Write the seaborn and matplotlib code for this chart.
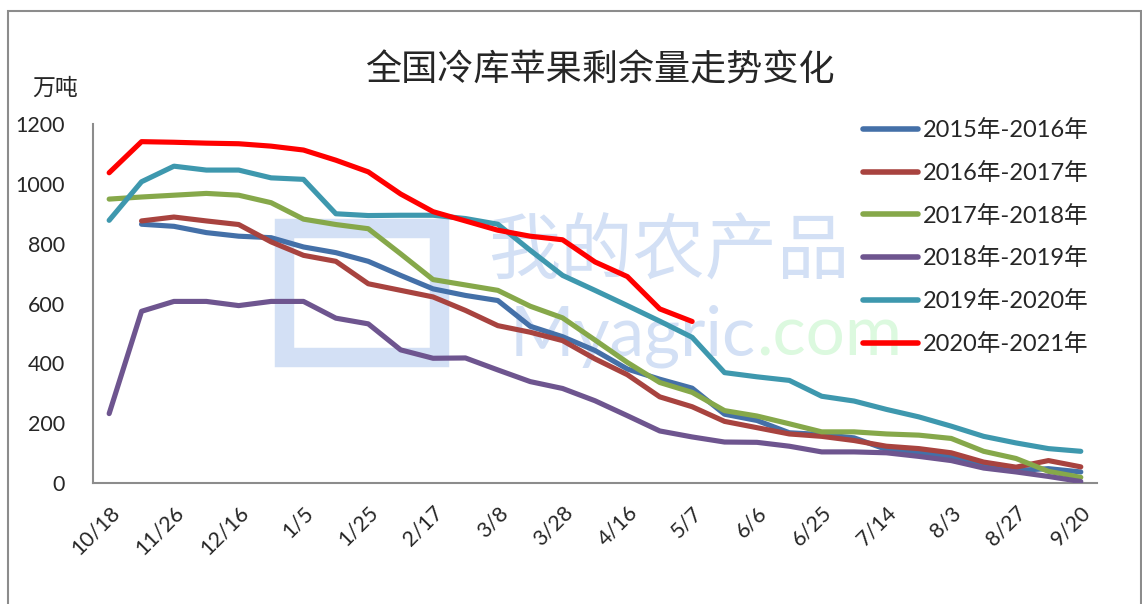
import numpy as np
import pandas as pd
import seaborn as sns
import matplotlib.pyplot as plt
from matplotlib.patches import Rectangle

# x categories (31 weekly points), only every other one is labelled
n_points = 31
x_labels = ['10/18', '11/26', '12/16', '1/5', '1/25', '2/17', '3/8', '3/28',
            '4/16', '5/7', '6/6', '6/25', '7/14', '8/3', '8/27', '9/20']

nan = np.nan
s2015 = [nan, 865, 858, 837, 825, 820, 789, 770, 741, 694, 649, 627, 610, 524, 489, 443,
         381, 347, 317, 230, 209, 168, 162, 151, 112, 101, 89, 56, 42, 48, 37]
s2016 = [nan, 876, 889, 876, 864, 806, 761, 741, 666, 644, 622, 577, 526, 504, 476, 415,
         362, 288, 255, 206, 185, 164, 156, 142, 123, 115, 101, 70, 53, 75, 54]
s2017 = [949, 956, 962, 968, 962, 937, 882, 864, 850, 766, 680, 662, 644, 591, 552, 478,
         403, 336, 303, 242, 224, 198, 171, 171, 164, 160, 149, 106, 82, 39, 19]
s2018 = [232, 574, 607, 607, 593, 607, 607, 551, 532, 445, 417, 418, 378, 339, 316, 275,
         225, 174, 154, 137, 136, 123, 104, 104, 101, 89, 75, 50, 37, 22, 5]
s2019 = [878, 1007, 1059, 1046, 1046, 1020, 1015, 900, 894, 895, 895, 884, 865, 778, 694, 644,
         593, 541, 487, 369, 355, 343, 290, 274, 246, 221, 190, 156, 134, 115, 106]
s2020 = [1037, 1141, 1139, 1136, 1134, 1126, 1113, 1079, 1040, 966, 907, 876, 845, 825, 813, 739,
         690, 582, 540] + [nan] * 12

series_names = ['2015年-2016年', '2016年-2017年', '2017年-2018年',
                '2018年-2019年', '2019年-2020年', '2020年-2021年']
colors = ['#4470A8', '#A8433F', '#86A84A', '#6E558F', '#3E98AE', '#FF0000']

df = pd.DataFrame({'idx': np.arange(n_points)})
for name, vals in zip(series_names, [s2015, s2016, s2017, s2018, s2019, s2020]):
    df[name] = vals
long = df.melt(id_vars='idx', var_name='season', value_name='stock').dropna()

sns.set_style('white')
plt.rcParams['font.family'] = ['Lato', 'Noto Sans CJK SC']

fig = plt.figure(figsize=(11.42, 6.04), dpi=100)
ax = fig.add_axes([0.0814, 0.2003, 0.8792, 0.5944])

# faint watermark behind the lines
wm_blue = '#d3e0f5'
ax.text(0.573, 0.64, '我的农产品', transform=ax.transAxes, fontsize=52,
        color=wm_blue, ha='center', va='center', zorder=0,
        family=['Noto Sans CJK SC'])
ax.text(0.66, 0.41, 'Myagric', transform=ax.transAxes, fontsize=50,
        color=wm_blue, ha='right', va='center', zorder=0)
ax.text(0.66, 0.41, '.com', transform=ax.transAxes, fontsize=50,
        color='#dcf9df', ha='left', va='center', zorder=0)
ax.add_patch(Rectangle((0.19, 0.35), 0.155, 0.36, transform=ax.transAxes,
                       fill=False, edgecolor=wm_blue, linewidth=14, zorder=0))

sns.lineplot(data=long, x='idx', y='stock', hue='season', hue_order=series_names,
             palette=colors, linewidth=3.7, ax=ax, legend=False, zorder=3,
             solid_capstyle='round', solid_joinstyle='round')

ax.set_xlim(-0.5, n_points - 0.5)
ax.set_ylim(0, 1200)
ax.set_yticks(range(0, 1201, 200))
ax.set_xticks(np.arange(0, n_points, 2))
ax.set_xticklabels(x_labels, rotation=45, ha='right', rotation_mode='anchor')
ax.set_xticks(np.arange(-0.5, n_points, 1), minor=True)
ax.tick_params(axis='x', which='major', length=0, pad=14, labelsize=15.5)
ax.tick_params(axis='x', which='minor', length=6, width=1.2, color='#8c8c8c')
ax.tick_params(axis='y', length=6, width=1.2, color='#8c8c8c', labelsize=15.5, pad=14)
ax.set_xlabel('')
ax.set_ylabel('')
for side in ['top', 'right']:
    ax.spines[side].set_visible(False)
for side in ['left', 'bottom']:
    ax.spines[side].set_color('#8c8c8c')
    ax.spines[side].set_linewidth(1.5)

fig.text(0.525, 0.883, '全国冷库苹果剩余量走势变化', fontsize=26, ha='center', va='center',
         family=['Noto Sans CJK SC'])
fig.text(0.048, 0.853, '万吨', fontsize=16.5, ha='center', va='center',
         family=['Noto Sans CJK SC'])

handles = [plt.Line2D([], [], color=c, lw=4, solid_capstyle='round') for c in colors]
fig.legend(handles, series_names, loc='upper left', bbox_to_anchor=(0.745, 0.822),
           frameon=False, fontsize=17, handlelength=2.35, handletextpad=0.2,
           labelspacing=0.88, borderpad=0)

fig.add_artist(Rectangle((8 / 1142, -0.05), (1141 - 8) / 1142, 0.05 + (604 - 10.5) / 604,
                         transform=fig.transFigure, fill=False, edgecolor='#8c8c8c',
                         linewidth=1.5))

fig.savefig('out.png', dpi=100)
